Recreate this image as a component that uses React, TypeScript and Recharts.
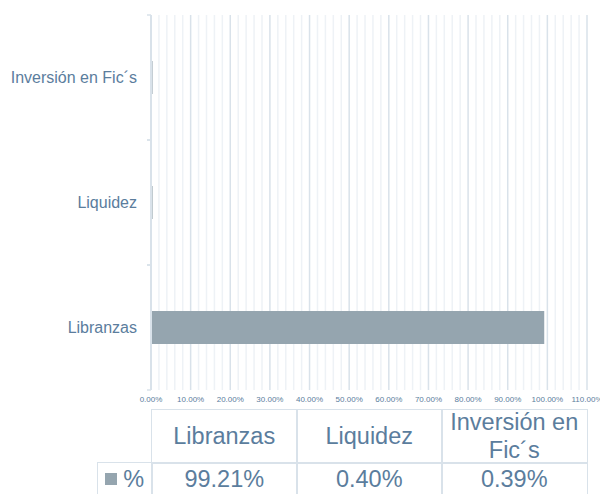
import { BarChart, Bar, XAxis, YAxis, CartesianGrid } from "recharts"

const categories = ["Libranzas", "Liquidez", "Inversión en Fic´s"]
const tableHeaders = [["Libranzas"], ["Liquidez"], ["Inversión en", "Fic´s"]]
const values = [99.21, 0.4, 0.39]
const majorTicks = [0, 10, 20, 30, 40, 50, 60, 70, 80, 90, 100, 110]
const minorTicks = [
    2, 4, 6, 8, 12, 14, 16, 18, 22, 24, 26, 28, 32, 34, 36, 38, 42, 44, 46, 48,
    52, 54, 56, 58, 62, 64, 66, 68, 72, 74, 76, 78, 82, 84, 86, 88, 92, 94, 96, 98,
    102, 104, 106, 108,
]
const seriesName = "%"

const data = categories.map((name, i) => ({ name, value: values[i] }))

const TEXT = "#5b7d9d"
const BAR = "#95a5af"
const LINE = "#d9e2ea"
const FONT = "'Liberation Sans', Arial, sans-serif"

const minorLines = ({ offset }: any) =>
    minorTicks.map((v) => offset.left + (offset.width * v) / 110)

function CategoryTick(props: any) {
    const { x, y, payload } = props
    const half = payload?.offset ?? 0
    return (
        <g>
            <text x={x} y={y} dy="0.35em" textAnchor="end" fill={TEXT} fontSize={16} fontFamily={FONT}>
                {payload.value}
            </text>
            {half > 0 && (
                <>
                    <line x1={x + 10} x2={x + 14} y1={y - half} y2={y - half} stroke={LINE} strokeWidth={1.5} />
                    <line x1={x + 10} x2={x + 14} y1={y + half} y2={y + half} stroke={LINE} strokeWidth={1.5} />
                </>
            )}
        </g>
    )
}

const cell = (left: number, top: number, width: number, height: number): React.CSSProperties => ({
    position: "absolute",
    left,
    top,
    width,
    height,
    boxSizing: "border-box",
    border: `1.5px solid ${LINE}`,
    display: "flex",
    flexDirection: "column",
    alignItems: "center",
    justifyContent: "center",
    color: TEXT,
    fontFamily: FONT,
    fontSize: 23.5,
    lineHeight: "28px",
    textAlign: "center",
})

export default function App() {
    const colLeft = 151
    const colW = 145
    return (
        <div style={{ position: "absolute", left: 0, top: 0, width: 600, height: 494, overflow: "hidden", background: "#fff" }}>
            <BarChart
                width={600}
                height={410}
                data={data}
                layout="vertical"
                margin={{ top: 15, right: 13, bottom: 0, left: 0 }}
            >
                <CartesianGrid horizontal={false} verticalCoordinatesGenerator={minorLines} stroke="#eef2f6" strokeWidth={1.5} />
                <CartesianGrid horizontal={false} stroke={LINE} strokeWidth={1.5} />
                <XAxis
                    type="number"
                    domain={[0, 110]}
                    ticks={majorTicks}
                    interval={0}
                    axisLine={false}
                    tickLine={false}
                    tickSize={0}
                    tickMargin={6}
                    height={20}
                    tick={{ fill: TEXT, fontSize: 8, fontFamily: FONT }}
                    tickFormatter={(v: number) => v.toFixed(2) + "%"}
                />
                <YAxis
                    type="category"
                    dataKey="name"
                    reversed
                    width={151}
                    axisLine={{ stroke: LINE, strokeWidth: 2 }}
                    tickLine={false}
                    tickSize={6}
                    tickMargin={8}
                    tick={<CategoryTick />}
                />
                <Bar dataKey="value" name={seriesName} fill={BAR} barSize={33} isAnimationActive={false} />
            </BarChart>
            {tableHeaders.map((lines, i) => (
                <div key={"h" + i} style={cell(colLeft + i * colW, 409, colW + 1.5, 54.5)}>
                    {lines.map((l) => (
                        <div key={l}>{l}</div>
                    ))}
                </div>
            ))}
            <div style={{ ...cell(97, 462, 55.5, 34), flexDirection: "row" }}>
                <span style={{ display: "inline-block", width: 12, height: 12, background: BAR, marginRight: 6 }} />
                <span>{seriesName}</span>
            </div>
            {values.map((v, i) => (
                <div key={"v" + i} style={cell(colLeft + i * colW, 462, colW + 1.5, 34)}>
                    {v.toFixed(2) + "%"}
                </div>
            ))}
        </div>
    )
}
